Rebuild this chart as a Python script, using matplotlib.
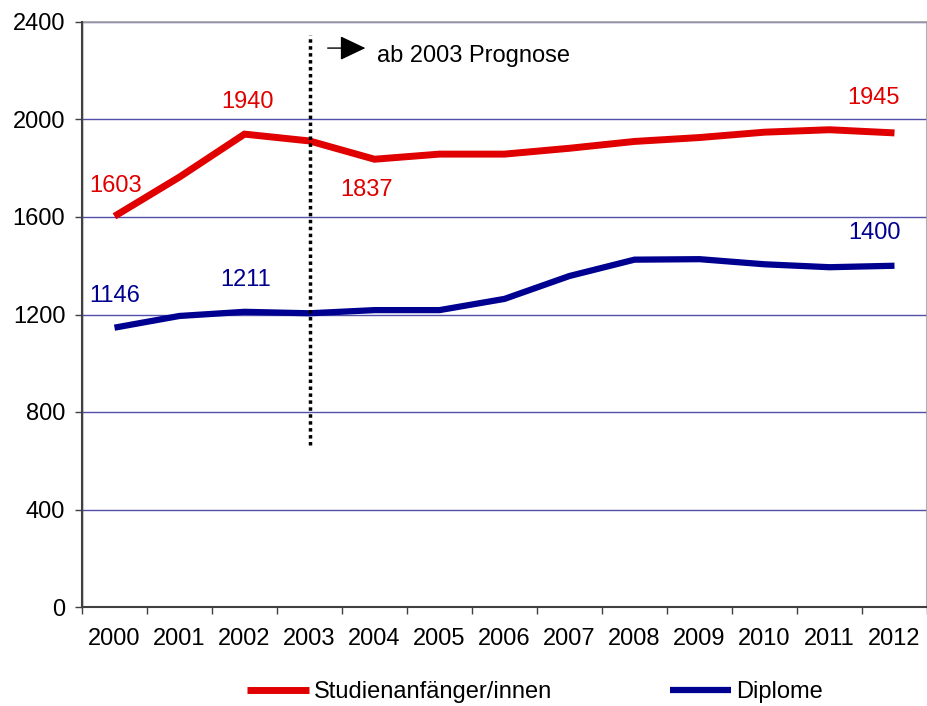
import matplotlib
matplotlib.use("Agg")
import matplotlib.pyplot as plt
from matplotlib.lines import Line2D

plt.rcParams['font.family'] = ['Liberation Sans', 'DejaVu Sans']

years = ["2000", "2001", "2002", "2003", "2004", "2005", "2006",
         "2007", "2008", "2009", "2010", "2011", "2012"]
studienanfaenger = [1603, 1764, 1940, 1912, 1837, 1858, 1858,
                    1882, 1910, 1926, 1948, 1958, 1945]
diplome = [1146, 1194, 1211, 1205, 1218, 1218, 1264,
           1358, 1425, 1427, 1406, 1394, 1400]

red_labels = {0: 1603, 2: 1940, 4: 1837, 12: 1945}
blue_labels = {0: 1146, 2: 1211, 12: 1400}

red = '#e00000'
blue = '#000090'
fs = 17

fig = plt.figure(figsize=(9.28, 7.06), dpi=100)
ax = fig.add_axes([82 / 928, 99 / 706, 845 / 928, 585 / 706])

x = list(range(len(years)))

for v in range(400, 2401, 400):
    ax.axhline(v, color='#5050aa', lw=1.0, zorder=1)

ax.plot(x, studienanfaenger, color=red, lw=5, solid_capstyle='butt',
        solid_joinstyle='miter', zorder=3)
ax.plot(x, diplome, color=blue, lw=4.5, solid_capstyle='butt',
        solid_joinstyle='miter', zorder=3)

# value labels (x position, baseline height)
red_pos = {0: (0.01, 1703), 2: (2.05, 2048), 4: (3.88, 1686), 12: (11.67, 2064)}
for i, v in red_labels.items():
    px, py = red_pos[i]
    ax.text(px, py, str(v), color=red, fontsize=fs, ha='center', va='baseline')
blue_pos = {0: (0.01, 1251), 2: (2.02, 1317), 12: (11.70, 1510)}
for i, v in blue_labels.items():
    px, py = blue_pos[i]
    ax.text(px, py, str(v), color=blue, fontsize=fs, ha='center', va='baseline')

# forecast marker
ax.vlines(3, 665, 2345, colors='black', lw=2.5, linestyles=(0, (1, 1)), zorder=4)
ax.annotate('', xy=(3.86, 2293), xytext=(3.28, 2293),
            arrowprops=dict(arrowstyle='-|>,head_length=0.8,head_width=0.38',
                            mutation_scale=20, color='black', lw=1,
                            shrinkA=0, shrinkB=0))
ax.text(4.04, 2237, 'ab 2003 Prognose', fontsize=fs, ha='left', va='baseline',
        color='black')

ax.set_xlim(-0.5, len(years) - 0.5)
ax.set_ylim(0, 2400)
ax.set_yticks(range(0, 2401, 400))
ax.set_xticks([i - 0.5 for i in range(len(years) + 1)])
ax.set_xticklabels([])
ax.set_xticks(x, minor=True)
ax.set_xticklabels(years, minor=True)
ax.tick_params(axis='x', which='major', direction='out', length=5, width=1,
               color='#404040')
ax.tick_params(axis='x', which='minor', length=0, pad=15, labelsize=fs)
ax.tick_params(axis='y', direction='out', length=5, width=1, color='#404040',
               labelsize=fs, pad=7)

for s in ['left', 'bottom']:
    ax.spines[s].set_color('#404040')
    ax.spines[s].set_linewidth(1.5)
    ax.spines[s].set_zorder(5)
for s in ['top', 'right']:
    ax.spines[s].set_color('#a0a0a0')
    ax.spines[s].set_linewidth(1.2)

# light inner shading along the left edge of the plot area
ax.axvline(-0.5, color='#d0d0d0', lw=3, zorder=0.5)

handles = [Line2D([], [], color=red, lw=5, solid_capstyle='butt'),
           Line2D([], [], color=blue, lw=4.5, solid_capstyle='butt')]
fig.legend(handles, ['Studienanfänger/innen', 'Diplome'], loc='center',
           bbox_to_anchor=(535 / 928, 1 - 692 / 706), ncol=2, frameon=False,
           fontsize=fs, handlelength=2.6, handletextpad=0.2,
           columnspacing=5.0, borderpad=0)

fig.savefig('out.png', dpi=100)
